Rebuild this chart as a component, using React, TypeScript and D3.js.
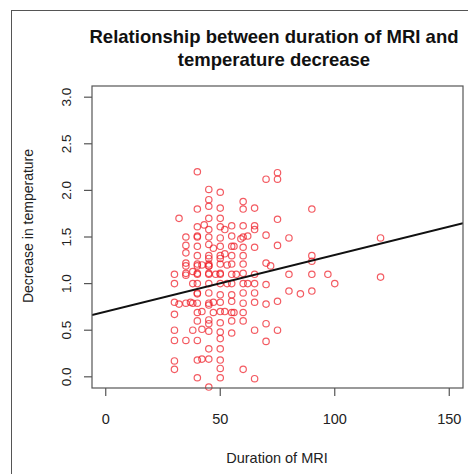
import React from 'react';
import * as d3 from 'd3';

const title = ['Relationship between duration of MRI and', 'temperature decrease'];
const xLabel = 'Duration of MRI';
const yLabel = 'Decrease in temperature';
const xTicks = [0, 50, 100, 150];
const yTicks = [0, 0.5, 1, 1.5, 2, 2.5, 3];

// regression line
const fitIntercept = 0.7;
const fitSlope = 0.00608;

// [duration, decrease]
const points: [number, number][] = [
  [30, 1.1], [30, 1.0], [30, 0.8], [30, 0.67], [30, 0.5], [30, 0.39], [30, 0.17], [30, 0.08],
  [32, 1.7], [32, 0.78],
  [35, 1.5], [35, 1.41], [35, 1.33], [35, 1.22], [35, 1.19], [35, 1.11], [35, 1.09], [35, 0.79], [35, 0.39],
  [38, 1.13], [38, 1.0], [38, 0.79], [38, 0.5], [37, 0.8],
  [40, 2.2], [40, 1.8], [40, 1.61], [40, 1.51], [40, 1.5], [40, 1.4], [40, 1.3], [40, 1.21], [40, 1.19], [40, 1.11],
  [40, 1.1], [40, 1.0], [40, 0.9], [40, 0.89], [40, 0.79], [40, 0.69], [40, 0.6], [40, 0.39], [40, 0.18], [40, -0.01],
  [42, 0.51], [42, 0.19], [43, 1.63], [42, 1.2], [42, 0.7],
  [45, 2.01], [45, 1.9], [45, 1.83], [45, 1.7], [45, 1.58], [45, 1.5], [45, 1.42], [45, 1.27], [45, 1.21], [45, 1.19],
  [45, 1.19], [45, 1.11], [45, 1.1], [45, 1.0], [45, 0.9], [45, 0.79], [45, 0.77], [45, 0.61], [45, 0.57],
  [45, 0.49], [45, 0.3], [45, 0.19], [45, -0.11], [45, 1.3],
  [47, 1.38], [47, 0.69], [48, 1.1], [47, 0.8],
  [50, 1.98], [50, 1.81], [50, 1.7], [50, 1.61], [50, 1.49], [50, 1.4], [50, 1.27], [50, 1.21], [50, 1.11],
  [50, 1.1], [50, 1.0], [50, 0.88], [50, 0.7], [50, 0.58], [50, 0.48], [50, 0.41], [50, 0.3], [50, 0.18],
  [50, 0.09], [50, -0.01], [50, 1.3], [50, 0.8],
  [52, 1.58], [52, 1.32], [52, 0.7], [53, 1.0], [53, 1.2],
  [55, 1.51], [55, 1.4], [55, 1.3], [55, 1.21], [55, 1.1], [55, 1.0], [55, 0.88], [55, 0.81], [55, 0.69], [55, 0.47],
  [55, 1.62], [55, 0.6],
  [56, 1.4], [56, 0.69], [57, 1.1],
  [60, 1.88], [60, 1.8], [60, 1.62], [59, 1.48], [60, 1.39], [60, 1.3], [60, 1.21], [60, 1.11], [60, 1.0],
  [60, 0.9], [60, 0.79], [60, 0.69], [60, 0.08], [60, 1.5], [60, 0.6],
  [62, 1.51], [62, 1.0],
  [65, 1.81], [65, 1.62], [65, 1.58], [65, 1.39], [65, 1.0], [65, 0.9], [65, 0.5], [65, -0.02], [65, 1.1], [65, 0.8],
  [70, 2.12], [70, 1.52], [70, 1.22], [70, 0.99], [70, 0.78], [70, 0.57], [70, 0.38],
  [72, 1.19],
  [75, 2.19], [75, 2.12], [75, 1.69], [75, 1.41], [75, 0.81], [75, 0.5],
  [80, 1.49], [80, 1.1], [80, 0.92],
  [85, 0.89],
  [90, 1.8], [90, 1.3], [90, 1.24], [90, 1.1], [90, 0.92],
  [97, 1.1], [100, 1.0],
  [120, 1.49], [120, 1.07],
];

const W = 468;
const H = 474;
const plot = { left: 92, right: 463, top: 86, bottom: 388 };
const font = 'Liberation Sans, Arial, Helvetica, sans-serif';

export default function App() {
  const x = d3.scaleLinear().domain([-6, 156]).range([plot.left, plot.right]);
  const y = d3.scaleLinear().domain([-0.12, 3.12]).range([plot.bottom, plot.top]);

  const fit = d3.line<number>()
    .x(d => x(d))
    .y(d => y(fitIntercept + fitSlope * d));

  return (
    <svg width={W} height={H} style={{ position: 'absolute', left: 0, top: 0, background: '#fff' }}>
      <rect x={11.5} y={10.5} width={W + 10} height={H + 10} fill="none" stroke="#555" strokeWidth={1} />

      <g fontFamily={font} fontWeight="bold" fontSize={18.5} textAnchor="middle" fill="#111">
        {title.map((t, i) => (
          <text key={i} x={274} y={43 + i * 23}>{t}</text>
        ))}
      </g>

      <defs>
        <clipPath id="plotclip">
          <rect x={plot.left} y={plot.top} width={plot.right - plot.left} height={plot.bottom - plot.top} />
        </clipPath>
      </defs>

      <g>
        {points.map((p, i) => (
          <circle key={i} cx={x(p[0])} cy={y(p[1])} r={3.2} fill="none"
            stroke="#ee1c25" strokeOpacity={0.72} strokeWidth={1.2} />
        ))}
      </g>

      <path d={fit([-6, 156]) || ''} clipPath="url(#plotclip)" fill="none" stroke="#111" strokeWidth={2} />

      <rect x={plot.left} y={plot.top} width={plot.right - plot.left} height={plot.bottom - plot.top}
        fill="none" stroke="#555" strokeWidth={1.2} />

      <g fontFamily={font} fill="#222">
        {xTicks.map(t => (
          <g key={t}>
            <line x1={x(t)} x2={x(t)} y1={plot.bottom} y2={plot.bottom + 8} stroke="#555" strokeWidth={1.2} />
            <text x={x(t)} y={424} fontSize={14.5} textAnchor="middle">{t}</text>
          </g>
        ))}
        {yTicks.map(t => (
          <g key={t}>
            <line x1={plot.left - 8} x2={plot.left} y1={y(t)} y2={y(t)} stroke="#555" strokeWidth={1.2} />
            <text transform={`translate(71,${y(t)}) rotate(-90)`} fontSize={13.5} textAnchor="middle">{t.toFixed(1)}</text>
          </g>
        ))}
        <text x={277} y={463} fontSize={14.5} textAnchor="middle">{xLabel}</text>
        <text transform="translate(33,226) rotate(-90)" fontSize={14}
          textAnchor="middle">{yLabel}</text>
      </g>
    </svg>
  );
}
